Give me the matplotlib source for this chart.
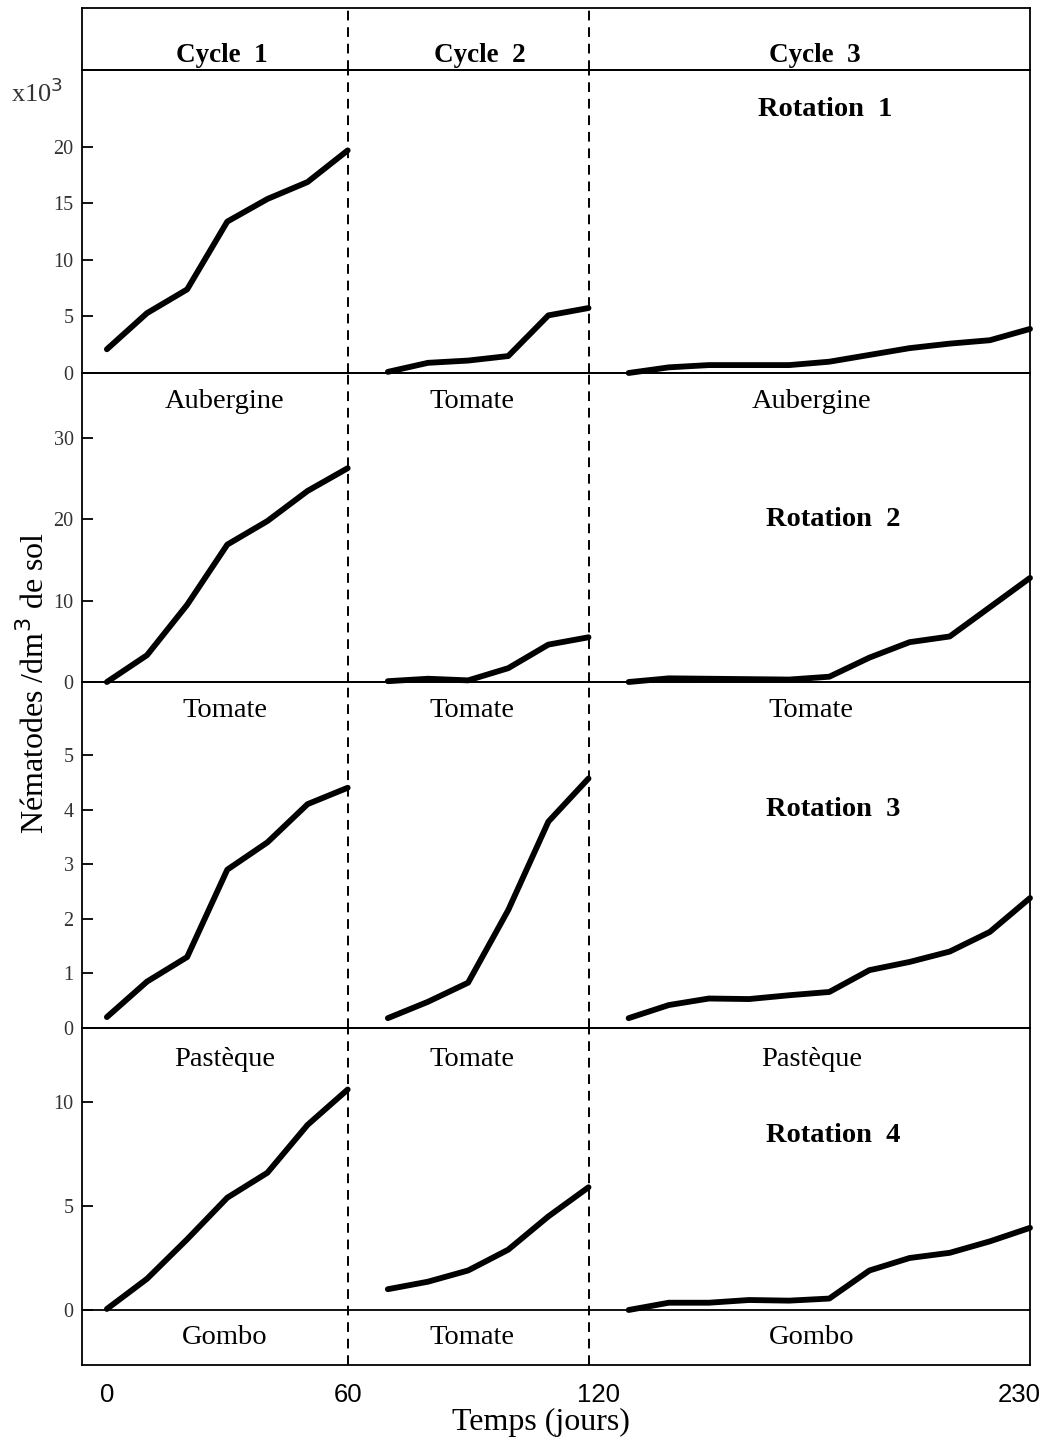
import matplotlib
matplotlib.use("Agg")
import matplotlib.pyplot as plt
from matplotlib.transforms import blended_transform_factory, offset_copy

# ---- data: nematode counts (x10^3 per dm3 of soil) over time (days) ----
days_c1 = [0, 10, 20, 30, 40, 50, 60]
days_c2 = [70, 80, 90, 100, 110, 120]
days_c3 = [130, 140, 150, 160, 170, 180, 190, 200, 210, 220, 230]

rot1_c1 = [2.1, 5.3, 7.4, 13.4, 15.4, 16.9, 19.7]
rot1_c2 = [0.1, 0.9, 1.1, 1.5, 5.1, 5.75]
rot1_c3 = [0.0, 0.5, 0.7, 0.7, 0.7, 1.0, 1.6, 2.2, 2.6, 2.9, 3.9]

rot2_c1 = [0.0, 3.3, 9.5, 16.9, 19.8, 23.5, 26.3]
rot2_c2 = [0.1, 0.4, 0.2, 1.7, 4.6, 5.5]
rot2_c3 = [0.0, 0.45, 0.4, 0.35, 0.3, 0.65, 3.0, 4.9, 5.6, 9.2, 12.8]

rot3_c1 = [0.2, 0.85, 1.3, 2.9, 3.4, 4.1, 4.4]
rot3_c2 = [0.18, 0.48, 0.83, 2.16, 3.78, 4.57]
rot3_c3 = [0.18, 0.42, 0.54, 0.53, 0.6, 0.66, 1.06, 1.21, 1.4, 1.76, 2.38]

rot4_c1 = [0.05, 1.5, 3.4, 5.4, 6.6, 8.9, 10.6]
rot4_c2 = [1.0, 1.36, 1.9, 2.9, 4.5, 5.9]
rot4_c3 = [0.0, 0.35, 0.35, 0.48, 0.45, 0.55, 1.9, 2.5, 2.75, 3.3, 3.95]

rotations = ["Rotation  1", "Rotation  2", "Rotation  3", "Rotation  4"]
cycles = ["Cycle  1", "Cycle  2", "Cycle  3"]
crops = [
    ["Aubergine", "Tomate", "Aubergine"],
    ["Tomate", "Tomate", "Tomate"],
    ["Pastèque", "Tomate", "Pastèque"],
    ["Gombo", "Tomate", "Gombo"],
]
yticks = [[0, 5, 10, 15, 20], [0, 10, 20, 30], [0, 1, 2, 3, 4, 5], [0, 5, 10]]
xtick_vals = [0, 60, 120, 230]
cycle_bounds = [60, 120]

series = [
    (rot1_c1, rot1_c2, rot1_c3),
    (rot2_c1, rot2_c2, rot2_c3),
    (rot3_c1, rot3_c2, rot3_c3),
    (rot4_c1, rot4_c2, rot4_c3),
]

# ---- layout ----
W, H = 1043, 1444
SERIF = ["Liberation Serif", "DejaVu Serif"]
SANS = ["Liberation Sans", "DejaVu Sans"]
plt.rcParams["font.family"] = SERIF
plt.rcParams["axes.linewidth"] = 1.3

fig = plt.figure(figsize=(W / 100, H / 100), dpi=100)
fig.patch.set_facecolor("white")

LEFT, RIGHT = 82, 1030
XMIN = -6.2
XMAX = 230


def add_box(top_px, bot_px):
    ax = fig.add_axes([LEFT / W, 1 - bot_px / H, (RIGHT - LEFT) / W, (bot_px - top_px) / H])
    ax.set_facecolor("none")
    ax.set_xlim(XMIN, XMAX)
    for s in ax.spines.values():
        s.set_color("black")
    return ax


def dashed(ax):
    for xb in cycle_bounds:
        ax.axvline(xb, color="black", lw=1.4, ls=(0, (5, 3.5)), zorder=1)


# header strip with the cycle names
hdr = add_box(8, 70)
hdr.set_xticks([])
hdr.set_yticks([])
hdr.set_ylim(0, 1)
dashed(hdr)
for name, xc in zip(cycles, [28.7, 93.0, 176.4]):
    hdr.text(xc, 0.24, name, ha="center", va="center", fontsize=19.5,
             fontweight="bold", family=SERIF)

# panel extents in pixels
panels = [(70, 373), (373, 682), (682, 1028), (1028, 1365)]
units_per_px = [1 / 11.3, 1 / 8.13, 1 / 54.6, 1 / 20.8]
zero_px = [373, 682, 1028, 1310]
label_y_px = [402, 710, 1060, 1338]
rot_label_px = [110, 520, 810, 1135]
rot_label_x = [179, 181, 181, 181]

axes = []
for i, ((top, bot), upp, zp) in enumerate(zip(panels, units_per_px, zero_px)):
    ax = add_box(top, bot)
    ymin = -(bot - zp) * upp
    ymax = (zp - top) * upp
    ax.set_ylim(ymin, ymax)
    if i == 3:
        ax.axhline(0, color="black", lw=1.3, zorder=1)
    dashed(ax)
    c1, c2, c3 = series[i]
    for d, v in ((days_c1, c1), (days_c2, c2), (days_c3, c3)):
        ax.plot(d, v, color="black", lw=4.2, solid_joinstyle="round",
                solid_capstyle="round", clip_on=False, zorder=3)
    ax.set_yticks(yticks[i])
    ax.set_yticklabels([str(t) for t in yticks[i]])
    ax.tick_params(axis="y", direction="in", length=8, width=1.3, pad=6,
                   labelsize=14.5, labelcolor="#333333")
    for lab in ax.get_yticklabels():
        lab.set_family(SERIF)
    if i < 3:
        ax.set_xticks([])
    else:
        ax.set_xticks(xtick_vals)
        ax.set_xticklabels([str(t) for t in xtick_vals])
        ax.tick_params(axis="x", length=0, pad=13, labelsize=18.5)
        labs = ax.get_xticklabels()
        for lab in labs:
            lab.set_family(SANS)
        labs[2].set_transform(offset_copy(labs[2].get_transform(), fig=fig, x=10, units="dots"))
        labs[-1].set_horizontalalignment("right")
        labs[-1].set_transform(offset_copy(labs[-1].get_transform(), fig=fig, x=11, units="dots"))

    # crop names under the zero line of each cycle
    tr = blended_transform_factory(ax.transData, fig.transFigure)
    for crop, xc in zip(crops[i], [29.4, 91.0, 175.5]):
        ax.text(xc, 1 - label_y_px[i] / H, crop, transform=tr, ha="center",
                va="center", fontsize=20.5, family=SERIF, clip_on=False)
    ax.text(rot_label_x[i], 1 - rot_label_px[i] / H, rotations[i], transform=tr,
            ha="center", va="center", fontsize=20.5, fontweight="bold",
            family=SERIF)
    axes.append(ax)

# shared annotations
fig.text(37 / W, 1 - 93 / H, r"x10$^3$", ha="center", va="center",
         fontsize=19, family=SERIF, color="#333333")
fig.text(35 / W, 1 - 683 / H, "Nématodes /dm$^3$ de sol", rotation=90,
         ha="center", va="center", fontsize=23, family=SERIF)
fig.text(541 / W, 1 - 1422 / H, "Temps (jours)", ha="center", va="center",
         fontsize=23, family=SERIF)

fig.savefig("out.png", dpi=100, facecolor="white")
